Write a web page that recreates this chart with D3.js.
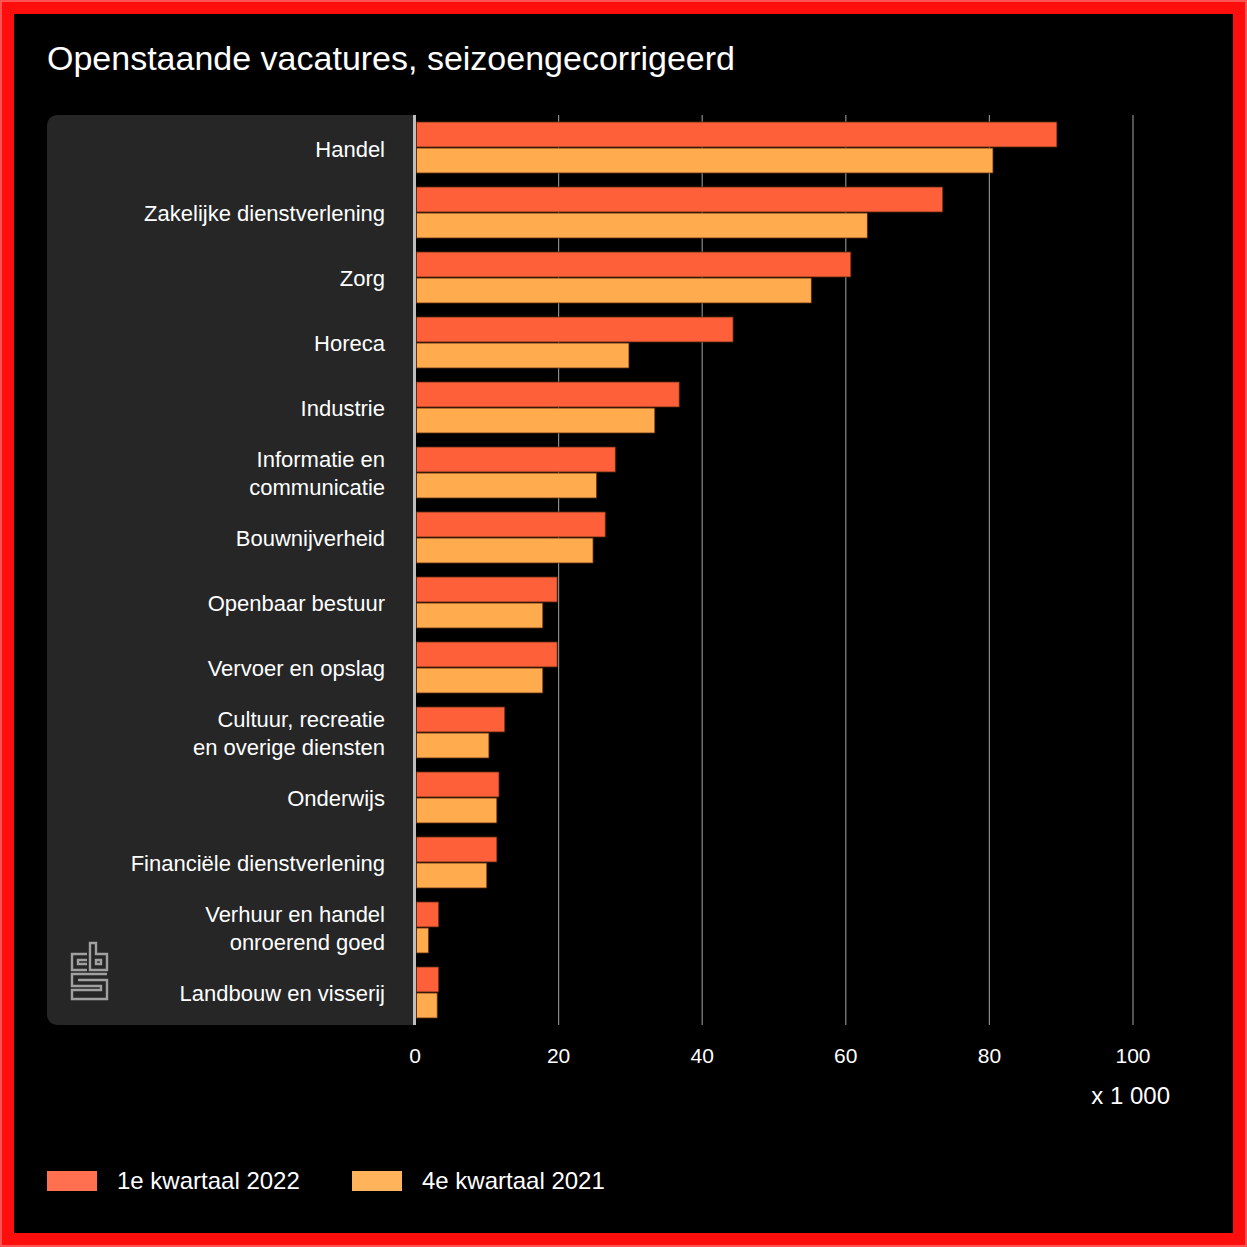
<!DOCTYPE html>
<html>
<head>
<meta charset="utf-8">
<script src="https://cdn.jsdelivr.net/npm/d3@7"></script>
<style>
  html, body { margin: 0; padding: 0; background: #000; }
  svg { display: block; font-family: "Liberation Sans", Arial, sans-serif; }
</style>
</head>
<body>
<div id="wrapper"></div>
<script>
// data (x 1 000)
let categories = [
    ['Handel'],
    ['Zakelijke dienstverlening'],
    ['Zorg'],
    ['Horeca'],
    ['Industrie'],
    ['Informatie en', 'communicatie'],
    ['Bouwnijverheid'],
    ['Openbaar bestuur'],
    ['Vervoer en opslag'],
    ['Cultuur, recreatie', 'en overige diensten'],
    ['Onderwijs'],
    ['Financiële dienstverlening'],
    ['Verhuur en handel', 'onroerend goed'],
    ['Landbouw en visserij']
];
let q1_2022 = [89.4, 73.5, 60.7, 44.3, 36.8, 27.9, 26.5, 19.8, 19.8, 12.5, 11.7, 11.4, 3.3, 3.3];
let q4_2021 = [80.5, 63.0, 55.2, 29.8, 33.4, 25.3, 24.8, 17.8, 17.8, 10.3, 11.4, 10.0, 1.9, 3.1];
let seriesNames = ['1e kwartaal 2022', '4e kwartaal 2021'];
let ticks = [0, 20, 40, 60, 80, 100];

let W = 1247, H = 1247;
let colors = ['#fe603a', '#ffab4e'];
let legendColors = ['#ff7050', '#ffb45c'];

let svg = d3.select('#wrapper')
    .append('svg')
    .attr('width', W)
    .attr('height', H);

// red frame
svg.append('rect').attr('x', 0).attr('y', 0).attr('width', W).attr('height', H).style('fill', '#ff0e0e');
svg.append('rect').attr('x', 1).attr('y', 1).attr('width', W - 2).attr('height', H - 2)
    .style('fill', 'none').style('stroke', '#ff6a6a').style('stroke-width', 1.5);
svg.append('rect').attr('x', 14).attr('y', 14).attr('width', W - 28).attr('height', H - 28).style('fill', '#000');

svg.append('text')
    .attr('x', 47).attr('y', 70)
    .style('fill', '#fff')
    .style('font-size', '34px')
    .text('Openstaande vacatures, seizoengecorrigeerd');

let x = d3.scaleLinear().domain([0, 100]).range([415, 1133]);
let y = d3.scaleBand().domain(d3.range(categories.length)).range([115, 1025])
    .paddingInner(0.215).paddingOuter(0.1077);
let y1 = d3.scaleBand().domain([0, 1]).range([0, y.bandwidth()]).paddingInner(0.04);

// label panel
svg.append('rect')
    .attr('x', 47).attr('y', 115).attr('width', 378).attr('height', 910)
    .attr('rx', 10)
    .style('fill', '#262626');
svg.append('rect').attr('x', 413).attr('y', 115).attr('width', 20).attr('height', 910).style('fill', '#000');

// grid
svg.append('g')
    .selectAll('line')
    .data(ticks.slice(1))
    .enter()
    .append('line')
    .attr('x1', function (d) { return x(d) })
    .attr('x2', function (d) { return x(d) })
    .attr('y1', 115)
    .attr('y2', 1025)
    .style('stroke', '#8a8a8a')
    .style('stroke-width', 1.2);

// bars
let groups = svg.append('g')
    .selectAll('g')
    .data(categories)
    .enter()
    .append('g')
    .attr('transform', function (d, i) { return 'translate(0,' + y(i) + ')' });

groups.each(function (d, i) {
    let vals = [q1_2022[i], q4_2021[i]];
    d3.select(this).selectAll('rect')
        .data(vals)
        .enter()
        .append('rect')
        .attr('x', x(0) + 1.5)
        .attr('y', function (v, j) { return y1(j) })
        .attr('width', function (v) { return x(v) - x(0) - 1.5 })
        .attr('height', y1.bandwidth())
        .style('fill', function (v, j) { return colors[j] })
        .style('stroke', '#5a2a10')
        .style('stroke-width', 0.8);
});

// axis line
svg.append('rect').attr('x', 413).attr('y', 115).attr('width', 3).attr('height', 910).style('fill', '#bdbdbd');

// category labels
groups.each(function (d) {
    let n = d.length;
    let t = d3.select(this).append('text')
        .attr('x', 385)
        .attr('text-anchor', 'end')
        .style('fill', '#fff')
        .style('font-size', '22px');
    d.forEach(function (line, k) {
        t.append('tspan')
            .attr('x', 385)
            .attr('y', y.bandwidth() / 2 + 9 + (k - (n - 1) / 2) * 28)
            .text(line);
    });
});

// tick labels
svg.append('g')
    .selectAll('text')
    .data(ticks)
    .enter()
    .append('text')
    .attr('x', function (d) { return x(d) })
    .attr('y', 1063)
    .attr('text-anchor', 'middle')
    .style('fill', '#fff')
    .style('font-size', '21px')
    .text(function (d) { return d });

svg.append('text')
    .attr('x', 1170).attr('y', 1104)
    .attr('text-anchor', 'end')
    .style('fill', '#fff')
    .style('font-size', '24px')
    .text('x 1 000');

// legend
let legendX = [47, 352];
seriesNames.forEach(function (name, i) {
    svg.append('rect')
        .attr('x', legendX[i]).attr('y', 1171)
        .attr('width', 50).attr('height', 20)
        .style('fill', legendColors[i]);
    svg.append('text')
        .attr('x', legendX[i] + 70).attr('y', 1189)
        .style('fill', '#fff')
        .style('font-size', '24px')
        .text(name);
});

// cbs logo
let logo = svg.append('g')
    .attr('transform', 'translate(71,943)')
    .style('fill', 'none')
    .style('stroke', '#a0a0a0')
    .style('stroke-width', 2.4);
logo.append('path').attr('d', 'M16,11 H1 V27 H16 M16,17 H7 V21 H16');
logo.append('path').attr('d', 'M19,0 V27 H36 V11 H25 V0 Z M25,17 H30 V21 H25 Z');
logo.append('path').attr('d', 'M36,31 H1 V43 H30 V47 H1 V56 H36 V37 H7');
</script>
</body>
</html>
